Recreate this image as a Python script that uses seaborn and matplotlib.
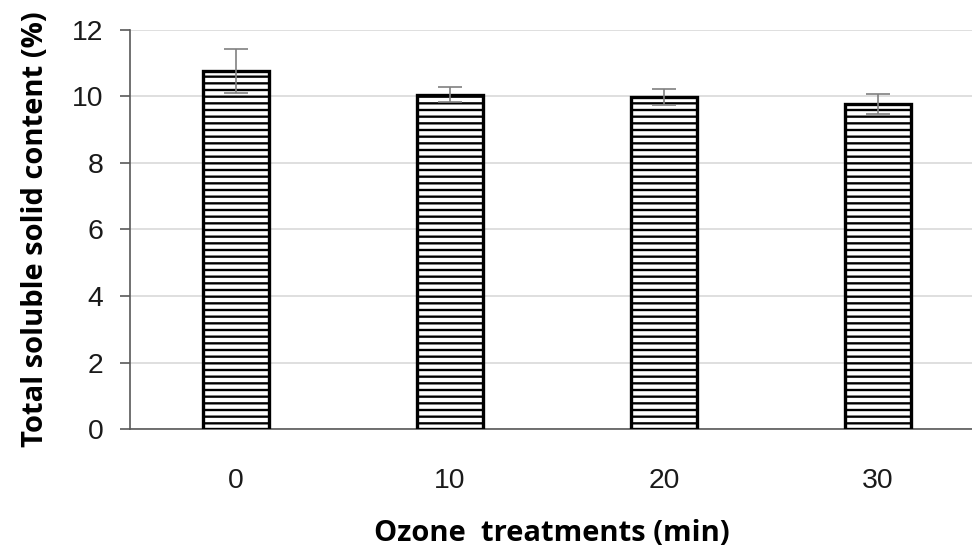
import matplotlib
matplotlib.use("Agg")
import matplotlib.pyplot as plt
import seaborn as sns
import pandas as pd

categories = ["0", "10", "20", "30"]
means = [10.77, 10.05, 9.98, 9.77]
errors = [0.66, 0.23, 0.25, 0.31]

sns.set_style("white")
plt.rcParams['font.family'] = ['Liberation Sans', 'DejaVu Sans']
plt.rcParams['hatch.linewidth'] = 1.4
plt.rcParams['hatch.color'] = 'black'

DPI = 120
fig = plt.figure(figsize=(973 / DPI, 551 / DPI), dpi=DPI)
ax = fig.add_axes([0.1336, 0.2214, 0.8664, 0.7242])

df = pd.DataFrame({"cat": categories, "val": means})
sns.barplot(data=df, x="cat", y="val", ax=ax, color="white", width=0.31,
            edgecolor="black", linewidth=2.0, hatch="---", errorbar=None, zorder=3)
for p in ax.patches:
    p.set_hatch("---")

ax.errorbar(range(len(categories)), means, yerr=errors, fmt="none",
            ecolor="#808080", elinewidth=1.0, capsize=7, capthick=1.0, zorder=4)

ax.set_ylim(0, 12)
ax.set_yticks([0, 2, 4, 6, 8, 10, 12])
ax.set_xlim(-0.495, 3.445)
ax.yaxis.grid(True, color="#d9d9d9", linewidth=1.0, zorder=0)
ax.set_axisbelow(True)

for s in ["top", "right"]:
    ax.spines[s].set_visible(False)
ax.spines["left"].set_color("#595959")
ax.spines["left"].set_linewidth(1.0)
ax.spines["bottom"].set_color("#595959")
ax.spines["bottom"].set_linewidth(1.0)

ax.tick_params(axis="y", which="major", left=True, length=6, width=1.0,
               color="#595959", labelsize=17, pad=10, labelcolor="#1a1a1a")
ax.tick_params(axis="x", which="major", bottom=False, labelsize=17, pad=20,
               labelcolor="#1a1a1a")

ax.set_xlabel("Ozone  treatments (min)", fontsize=17.5, fontweight="bold",
              family=["Open Sans", "DejaVu Sans"], labelpad=15, color="black")
ax.set_ylabel("Total soluble solid content (%)", fontsize=17.5, fontweight="bold",
              family=["Open Sans", "DejaVu Sans"], labelpad=13, color="black")

fig.savefig("out.png", dpi=DPI)
